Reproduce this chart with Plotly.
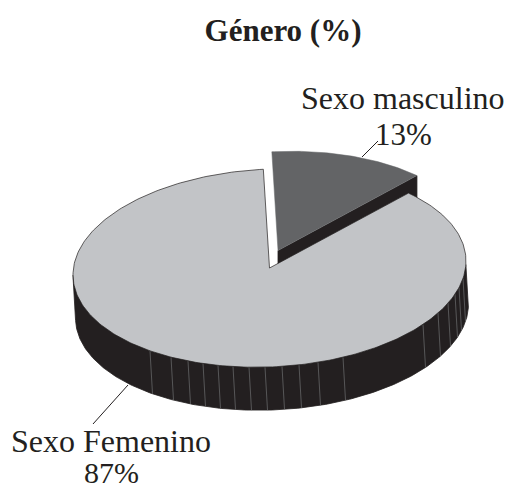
import numpy as np
import plotly.graph_objects as go

CATEGORIES = ["Sexo masculino", "Sexo Femenino"]
PERCENT = [13, 87]
TITLE = "Género (%)"
FACET_X = [150, 171, 188, 203, 218, 233, 249, 265, 282, 299, 318, 343, 423, 438, 448, 455, 459, 463]

LIGHT, MID, DARK = "#c2c4c7", "#636466", "#231f20"
FONT = "Liberation Serif"
CX, CY, RX, RY, TILT = 269.5, 268.0, 196.5, 99.0, 6.9
DEPTH, DEPTH_SHIFT = 43.0, 2.5
EXPLODE = (8.5, -17.5)
START = 45.0


def rim(t_deg, dx=0.0, dy=0.0):
    t = np.radians(t_deg)
    return (CX + dx + RX * np.cos(t), CY + dy - RY * np.sin(t) - TILT * np.cos(t))


def hull(points):
    pts = sorted(set(points))

    def half(seq):
        out = []
        for p in seq:
            while len(out) > 1 and ((out[-1][0] - out[-2][0]) * (p[1] - out[-2][1])
                                    - (out[-1][1] - out[-2][1]) * (p[0] - out[-2][0])) <= 0:
                out.pop()
            out.append(p)
        return out[:-1]

    return half(pts) + half(pts[::-1])


span = PERCENT[0] / sum(PERCENT) * 360.0
t_small = np.linspace(START, START + span, 60)
t_big = np.linspace(START + span, START + 360.0, 300)
t_wall = np.linspace(180.0, 358.0, 240)

fig = go.Figure()


def poly(x, y, fill, line=None, width=0.8):
    fig.add_trace(go.Scatter(
        x=list(x), y=list(y), mode="lines", fill="toself", fillcolor=fill,
        line=dict(color=line or fill, width=width), hoverinfo="skip", showlegend=False))


# exploded small slice: wall and top
ex, ey = EXPLODE
sx, sy = rim(t_small, ex, ey)
ax, ay = CX + ex, CY + ey
poly([ax, ax, sx[0], sx[0]], [ay, ay + DEPTH, sy[0] + DEPTH, sy[0]], DARK)
poly(np.r_[ax, sx, ax], np.r_[ay, sy, ay], MID, MID, 0.5)

# main slice: wall, facets, top
tx, ty = rim(t_big)
wx, wy = rim(t_wall)
bx, by = rim(t_wall, DEPTH_SHIFT, DEPTH)
h = hull(list(zip(wx.tolist(), wy.tolist())) + list(zip(bx.tolist(), by.tolist())))
h.append(h[0])
poly([p[0] for p in h], [p[1] for p in h], DARK)

for fx in FACET_X:
    t = 360.0 - np.degrees(np.arccos((fx - CX) / RX))
    x0, y0 = rim(t)
    x1, y1 = rim(t, DEPTH_SHIFT, DEPTH)
    fig.add_trace(go.Scatter(x=[x0, x1], y=[y0, y1], mode="lines",
                             line=dict(color="#6d6e70", width=0.7),
                             hoverinfo="skip", showlegend=False))

poly(np.r_[CX, tx, CX], np.r_[CY, ty, CY], LIGHT, DARK, 0.7)

# leader lines
for xs, ys in [([362, 378], [157, 141]), ([128, 93], [385, 424])]:
    fig.add_trace(go.Scatter(x=xs, y=ys, mode="lines", line=dict(color=DARK, width=1),
                             hoverinfo="skip", showlegend=False))

labels = [
    (403, 98, CATEGORIES[0], 32), (403, 134, f"{PERCENT[0]}%", 31),
    (111, 441, CATEGORIES[1], 32), (111, 472, f"{PERCENT[1]}%", 30),
]
for x, y, s, size in labels:
    fig.add_annotation(x=x, y=y, text=s, showarrow=False, xanchor="center", yanchor="middle",
                       font=dict(family=FONT, size=size, color=DARK))

fig.update_layout(
    width=508, height=490, margin=dict(l=0, r=0, t=0, b=0),
    paper_bgcolor="white", plot_bgcolor="white", showlegend=False,
    title=dict(text=f"<b>{TITLE}</b>", x=283 / 508, xanchor="center", y=1 - 30 / 490, yanchor="middle",
               font=dict(family=FONT, size=31, color=DARK)),
    xaxis=dict(range=[0, 508], visible=False, fixedrange=True),
    yaxis=dict(range=[490, 0], visible=False, fixedrange=True),
)
fig.write_html("out.html", config=dict(displayModeBar=False),
               post_script="document.body.style.margin='0';document.documentElement.style.overflow='hidden';")
